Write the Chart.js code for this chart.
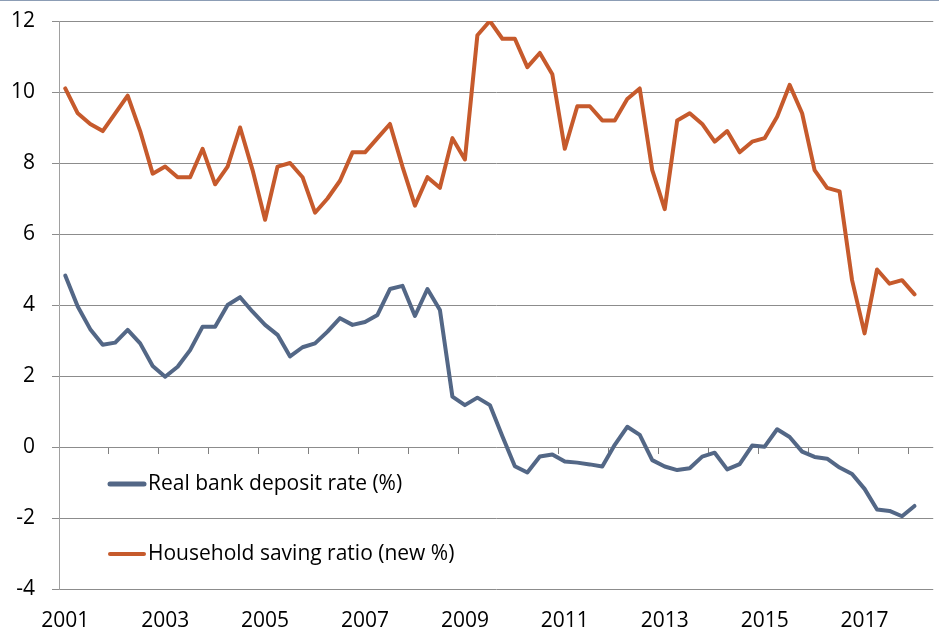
<!DOCTYPE html>
<html>
<head>
<meta charset="utf-8">
<script src="https://cdn.jsdelivr.net/npm/chart.js@4.4.0/dist/chart.umd.min.js"></script>
<style>
  html, body { margin: 0; padding: 0; background: #fff; overflow: hidden; width: 939px; height: 627px; }
  #frame { position: relative; width: 946px; height: 627px; border-top: 1px solid #8C9DB5; box-sizing: border-box; }
  #chart { display: block; }
</style>
</head>
<body>
<div id="frame"><canvas id="chart"></canvas></div>
<script>
const years = [2001, 2002, 2003, 2004, 2005, 2006, 2007, 2008, 2009, 2010, 2011, 2012, 2013, 2014, 2015, 2016, 2017, 2018];
const quarters = years.flatMap(y => ['Q1', 'Q2', 'Q3', 'Q4'].map(q => `${y} ${q}`)).slice(0, 70);
const yearTicks = ['2001', '2003', '2005', '2007', '2009', '2011', '2013', '2015', '2017'];

const depositRate = [
  4.83, 3.96, 3.32, 2.88, 2.94, 3.30, 2.92, 2.28, 1.98, 2.26, 2.73,
  3.39, 3.39, 4.00, 4.22, 3.81, 3.44, 3.16, 2.55, 2.81, 2.92,
  3.25, 3.63, 3.44, 3.52, 3.72, 4.45, 4.54, 3.69, 4.45, 3.86,
  1.42, 1.18, 1.39, 1.18, 0.30, -0.54, -0.72, -0.27, -0.21, -0.41,
  -0.44, -0.49, -0.55, 0.06, 0.57, 0.34, -0.37, -0.55, -0.65, -0.60,
  -0.27, -0.16, -0.63, -0.48, 0.04, 0.01, 0.50, 0.28, -0.13, -0.28,
  -0.33, -0.58, -0.76, -1.18, -1.76, -1.80, -1.95, -1.66
];

const savingRatio = [
  10.1, 9.4, 9.1, 8.9, 9.4, 9.9, 8.9, 7.7, 7.9, 7.6, 7.6,
  8.4, 7.4, 7.9, 9.0, 7.8, 6.4, 7.9, 8.0, 7.6, 6.6,
  7.0, 7.5, 8.3, 8.3, 8.7, 9.1, 7.9, 6.8, 7.6, 7.3,
  8.7, 8.1, 11.6, 12.0, 11.5, 11.5, 10.7, 11.1, 10.5, 8.4,
  9.6, 9.6, 9.2, 9.2, 9.8, 10.1, 7.8, 6.7, 9.2, 9.4,
  9.1, 8.6, 8.9, 8.3, 8.6, 8.7, 9.3, 10.2, 9.4, 7.8,
  7.3, 7.2, 4.7, 3.2, 5.0, 4.6, 4.7, 4.3
];

const seriesNames = ['Real bank deposit rate (%)', 'Household saving ratio (new %)'];
const BLUE = '#536786';
const ORANGE = '#C65A2C';
const GRID = '#8C8C8C';
const FONT = "'Open Sans', sans-serif";

// legend drawn inside the plot, bottom-left
const insideLegend = {
  id: 'insideLegend',
  afterDraw(chart) {
    const { ctx, chartArea } = chart;
    const rows = [chartArea.bottom - 105, chartArea.bottom - 35];
    const widths = [5, 4];
    ctx.save();
    chart.data.datasets.forEach((ds, i) => {
      const y = rows[i];
      ctx.strokeStyle = ds.borderColor;
      ctx.lineWidth = widths[i];
      ctx.lineCap = 'round';
      ctx.beginPath();
      ctx.moveTo(chartArea.left + 51, y);
      ctx.lineTo(chartArea.left + 85, y);
      ctx.stroke();
      ctx.fillStyle = '#000';
      ctx.font = `21px ${FONT}`;
      ctx.textBaseline = 'middle';
      ctx.textAlign = 'left';
      ctx.fillText(ds.label, chartArea.left + 89, y);
    });
    ctx.restore();
  }
};

new Chart(document.getElementById('chart'), {
  type: 'line',
  data: {
    labels: quarters,
    datasets: [
      {
        label: seriesNames[0],
        data: depositRate,
        borderColor: BLUE,
        borderWidth: 4,
        pointRadius: 0,
        tension: 0,
        borderJoinStyle: 'round',
        borderCapStyle: 'round',
      },
      {
        label: seriesNames[1],
        data: savingRatio,
        borderColor: ORANGE,
        borderWidth: 4,
        pointRadius: 0,
        tension: 0,
        borderJoinStyle: 'round',
        borderCapStyle: 'round',
      },
    ],
  },
  options: {
    responsive: true,
    maintainAspectRatio: false,
    animation: false,
    layout: { padding: { top: 20, left: 0, right: 0, bottom: 0 } },
    plugins: {
      legend: { display: false },
      tooltip: { enabled: false },
    },
    scales: {
      x: {
        type: 'category',
        position: 'bottom',
        offset: true,
        grid: { display: false, drawTicks: false },
        border: { display: false },
        ticks: {
          autoSkip: false,
          maxRotation: 0,
          padding: 19,
          color: '#000',
          font: { family: FONT, size: 21 },
          callback: (val, index) => (index % 8 === 0 ? yearTicks[index / 8] : ''),
        },
        afterFit(scale) { scale.height = 38; },
      },
      // tick marks along the zero line, one per year
      xZero: {
        type: 'category',
        axis: 'x',
        position: { y: 0 },
        offset: true,
        grid: {
          offset: true,
          drawOnChartArea: false,
          drawTicks: true,
          tickLength: 7,
          lineWidth: 1,
          color: ctx => (ctx.index % 4 === 0 ? '#808080' : 'rgba(0,0,0,0)'),
        },
        border: { display: false },
        ticks: { display: false, autoSkip: false },
        afterFit(scale) { scale.height = 0; },
      },
      y: {
        min: -4,
        max: 12,
        ticks: {
          stepSize: 2,
          padding: 17,
          color: '#000',
          font: { family: FONT, size: 21 },
        },
        grid: { color: GRID, lineWidth: 1, tickLength: 7 },
        border: { display: true, color: '#A0A0A0', width: 1 },
        afterFit(scale) {
          scale.width = 59;
          // the label padding is horizontal only
          scale.paddingTop = 0;
          scale.paddingBottom = 0;
        },
      },
    },
  },
  plugins: [insideLegend],
});
</script>
</body>
</html>
